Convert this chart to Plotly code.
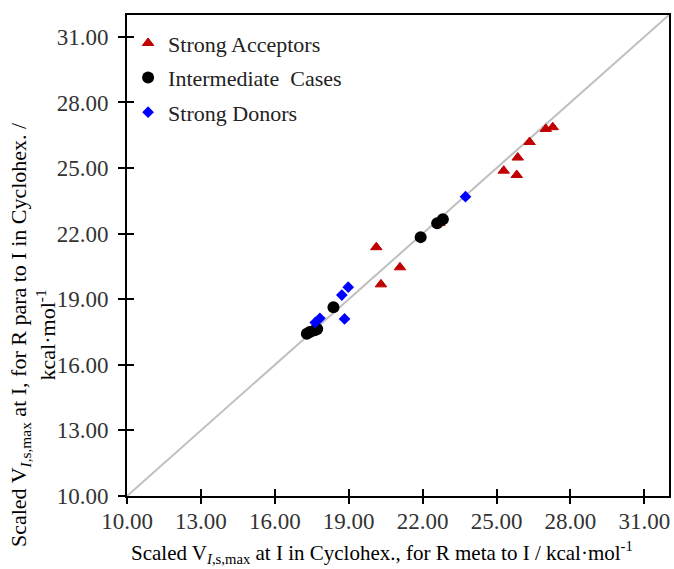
import plotly.graph_objects as go

# Data
acc_x = [20.12, 20.31, 21.08, 22.68, 25.29, 25.82, 25.86, 26.34, 27.00, 27.28]
acc_y = [21.38, 19.68, 20.46, 22.48, 24.88, 24.68, 25.48, 26.19, 26.79, 26.87]

int_x = [17.30, 17.42, 17.62, 17.72, 18.38, 21.92, 22.59, 22.82]
int_y = [17.42, 17.50, 17.58, 17.64, 18.63, 21.84, 22.48, 22.66]

don_x = [17.64, 17.83, 18.72, 18.98, 18.83, 23.74]
don_y = [17.93, 18.13, 19.19, 19.55, 18.10, 23.69]

ref_x = [10, 32]
ref_y = [10, 32]

tick_vals = [10, 13, 16, 19, 22, 25, 28, 31]
tick_text = ["10.00", "13.00", "16.00", "19.00", "22.00", "25.00", "28.00", "31.00"]

FONT = "Liberation Serif"
FS = 22
TFS = 23

fig = go.Figure()
fig.add_trace(go.Scatter(x=ref_x, y=ref_y, mode="lines",
                         line=dict(color="#BFBFBF", width=2), showlegend=False,
                         hoverinfo="skip"))
fig.add_trace(go.Scatter(x=acc_x, y=acc_y, mode="markers", name="Strong Acceptors",
                         legendgroup="a",
                         marker=dict(symbol="triangle-up", size=10, color="#C00000",
                                     line=dict(color="#C00000", width=1))))
fig.add_trace(go.Scatter(x=int_x, y=int_y, mode="markers", name="Intermediate  Cases",
                         legendgroup="b",
                         marker=dict(symbol="circle", size=12, color="#000000")))
fig.add_trace(go.Scatter(x=don_x, y=don_y, mode="markers", name="Strong Donors",
                         legendgroup="c",
                         marker=dict(symbol="diamond", size=9, color="#0000FF")))

axis_common = dict(range=[10, 32], tickvals=tick_vals, ticktext=tick_text,
                   showgrid=False, zeroline=False, showline=True, linecolor="#000000",
                   linewidth=2, mirror=True, ticks="outside", tickwidth=2,
                   tickcolor="#000000", tickfont=dict(family=FONT, size=TFS, color="#333333"))

tick_only = dict(range=[10, 32], tickvals=tick_vals, showticklabels=False, ticklen=7,
                 tickwidth=2, tickcolor="#000000", showgrid=False, zeroline=False,
                 showline=False)

fig.update_layout(
    width=674, height=569,
    margin=dict(l=127, r=3, t=15, b=73),
    plot_bgcolor="white", paper_bgcolor="white",
    font=dict(family=FONT, size=FS, color="#000000"),
    xaxis=dict(**axis_common, ticklen=3, ticklabelstandoff=0),
    yaxis=dict(**axis_common, ticklen=7, ticklabelstandoff=5),
    xaxis2=dict(**tick_only, overlaying="x", anchor="y", ticks="inside"),
    xaxis3=dict(**tick_only, overlaying="x", anchor="y", ticks="outside"),
    yaxis2=dict(**tick_only, overlaying="y", anchor="x", side="left", ticks="inside"),
    legend=dict(x=0.002, y=0.985, xanchor="left", yanchor="top",
                bgcolor="rgba(0,0,0,0)", font=dict(family=FONT, size=FS, color="#222222"),
                tracegroupgap=3),
    showlegend=True,
    annotations=[
        dict(text="Scaled V<sub><i>I</i>,s,max</sub> at I in Cyclohex., for R meta to I / kcal·mol<sup>-1</sup>",
             xref="paper", yref="paper", x=0.47, y=-0.118, xanchor="center", yanchor="middle",
             showarrow=False, font=dict(family=FONT, size=21, color="#000000")),
        dict(text="Scaled V<sub><i>I</i>,s,max</sub> at I, for R para to I in Cyclohex. /<br>kcal·mol<sup>-1</sup>",
             xref="paper", yref="paper", x=-0.173, y=0.335, xanchor="center", yanchor="middle",
             textangle=-90, showarrow=False, font=dict(family=FONT, size=FS, color="#000000")),
    ],
)
# dummy traces to activate overlay axes
fig.add_trace(go.Scatter(x=[None], y=[None], xaxis="x2", yaxis="y2", showlegend=False))
fig.add_trace(go.Scatter(x=[None], y=[None], xaxis="x3", yaxis="y", showlegend=False))

fig.write_html("out.html")
